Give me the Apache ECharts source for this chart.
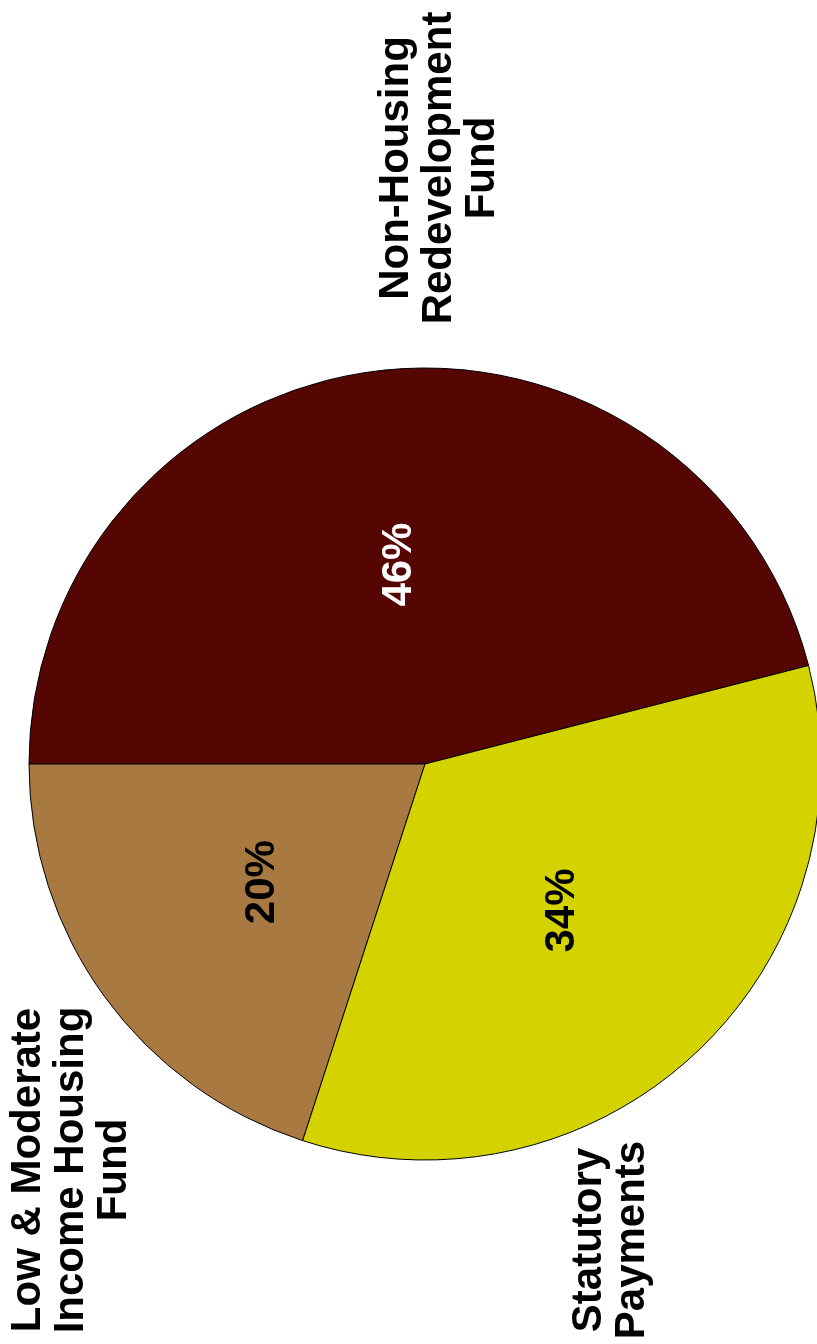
<!DOCTYPE html>
<html>
<head>
<meta charset="utf-8">
<script src="https://cdn.jsdelivr.net/npm/echarts@6/dist/echarts.min.js"></script>
<style>
html, body { margin: 0; padding: 0; background: #ffffff; }
#main { width: 817px; height: 1344px; }
</style>
</head>
<body>
<div id="main"></div>
<script>
var names = ['Non-Housing\nRedevelopment\nFund', 'Low & Moderate\nIncome Housing\nFund', 'Statutory\nPayments'];
var values = [46, 20, 34];
var colors = ['#560602', '#a87a42', '#d4d300'];
var pctColors = ['#ffffff', '#000000', '#000000'];

// where the category names sit (rotated text)
var namePos = [[439, 168], [71, 1170], [611, 1240]];

var myChart = echarts.init(document.getElementById('main'));

var pieData = values.map(function (v, i) {
    return {
        name: names[i],
        value: v,
        itemStyle: { color: colors[i] },
        label: { color: pctColors[i] }
    };
});

var option = {
    animation: false,
    series: [
        {
            type: 'pie',
            center: [425, 764],
            radius: [0, 396],
            clockwise: false,
            startAngle: 14.4,
            silent: true,
            itemStyle: { borderColor: '#000000', borderWidth: 1 },
            label: {
                show: true,
                position: 'inside',
                rotate: 90,
                formatter: '{c}%',
                fontFamily: 'Liberation Sans, Arial, sans-serif',
                fontWeight: 'bold',
                fontSize: 42
            },
            labelLine: { show: false },
            data: pieData
        },
        {
            type: 'pie',
            center: [425, 764],
            radius: [0, 396],
            clockwise: false,
            startAngle: 14.4,
            silent: true,
            z: 3,
            itemStyle: { color: 'rgba(0,0,0,0)', borderWidth: 0 },
            label: {
                show: true,
                position: 'outside',
                rotate: 90,
                formatter: '{b}',
                color: '#000000',
                align: 'center',
                fontFamily: 'Liberation Sans, Arial, sans-serif',
                fontWeight: 'bold',
                fontSize: 42,
                lineHeight: 43
            },
            labelLine: { show: false },
            labelLayout: function (params) {
                var p = namePos[params.dataIndex];
                return {
                    x: p[0],
                    y: p[1],
                    rotate: 90,
                    align: 'center',
                    verticalAlign: 'middle'
                };
            },
            data: values.map(function (v, i) {
                return { name: names[i], value: v };
            })
        }
    ]
};
myChart.setOption(option);
window.addEventListener('resize', function () {
    myChart.resize();
});
</script>
</body>
</html>
